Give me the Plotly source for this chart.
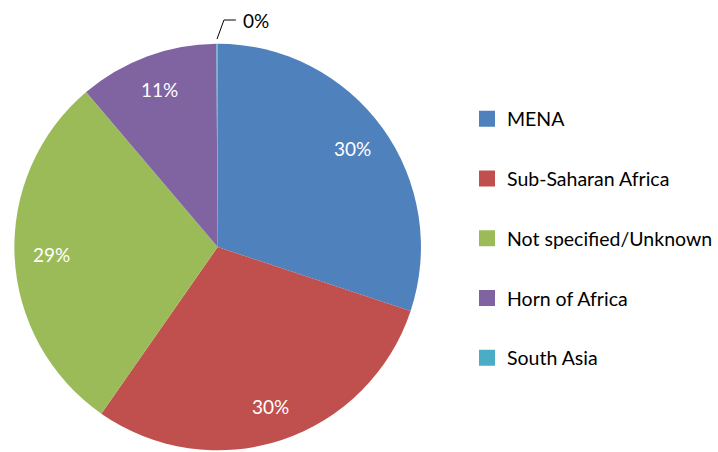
import math
import plotly.graph_objects as go

regions = ["MENA", "Sub-Saharan Africa", "Not specified/Unknown", "Horn of Africa", "South Asia"]
shares = [30.1, 29.6, 29.1, 11.1, 0.1]
colors = ["#4F81BD", "#C0504D", "#9BBB59", "#8064A2", "#4BACC6"]

FONT = "Lato, Calibri, sans-serif"
W, H = 718, 452

# pie geometry (pixels)
CX, CY, R = 219.5, 247.0, 205.0
dom_x = [(CX - R) / W, (CX + R) / W]
dom_y = [max(0.0, 1 - (CY + R) / H), 1 - (CY - R) / H]

fig = go.Figure()
fig.add_trace(go.Pie(
    labels=regions, values=shares, sort=False, direction="clockwise", rotation=0,
    marker=dict(colors=colors, line=dict(width=0)),
    textinfo="none", domain=dict(x=dom_x, y=dom_y),
    showlegend=False, hoverinfo="label+percent",
))
for name, c in zip(regions, colors):
    fig.add_trace(go.Scatter(
        x=[None], y=[None], mode="markers", name=name, legendgroup=name,
        marker=dict(symbol="square", size=16, color=c), showlegend=True,
    ))

# percentage labels, placed from the data's slice angles
total = sum(shares)
start = 0.0
annotations = []
shapes = []
for name, v in zip(regions, shares):
    frac = v / total
    mid = (start + frac / 2) * 2 * math.pi
    start += frac
    pct = f"{int(frac * 100 + 0.5):d}%"
    if frac > 0.02:
        rr = 0.82 * R
        px = CX + rr * math.sin(mid)
        py = CY - rr * math.cos(mid)
        annotations.append(dict(x=px / W, y=1 - py / H, xref="paper", yref="paper",
                                xanchor="center", yanchor="middle",
                                text=pct, showarrow=False,
                                font=dict(color="white", size=19, family=FONT)))
    else:
        ex = CX + (R + 3) * math.sin(mid)
        ey = CY - (R + 3) * math.cos(mid)
        kx, ky = ex + 7, ey - 19
        tx = kx + 12
        shapes.append(dict(type="path", xref="paper", yref="paper",
                           path=f"M {ex / W},{1 - ey / H} L {kx / W},{1 - ky / H} L {tx / W},{1 - ky / H}",
                           line=dict(color="black", width=1)))
        annotations.append(dict(x=(tx + 5) / W, y=1 - ky / H, xref="paper", yref="paper",
                                text=pct, showarrow=False, xanchor="left", yanchor="middle",
                                font=dict(color="black", size=19, family=FONT)))

fig.update_layout(
    width=W, height=H, margin=dict(l=0, r=0, t=0, b=0),
    paper_bgcolor="white", plot_bgcolor="white",
    xaxis=dict(visible=False), yaxis=dict(visible=False),
    font=dict(family=FONT, size=19, color="black"),
    annotations=annotations, shapes=shapes,
    legend=dict(x=471 / W, xanchor="left", y=1 - 99.5 / H, yanchor="top",
                tracegroupgap=31.4, font=dict(size=19.5, family=FONT, color="black"),
                bgcolor="rgba(0,0,0,0)", itemclick=False),
)
fig.write_html("out.html", config={"displayModeBar": False},
               post_script="document.body.style.margin='0';")
